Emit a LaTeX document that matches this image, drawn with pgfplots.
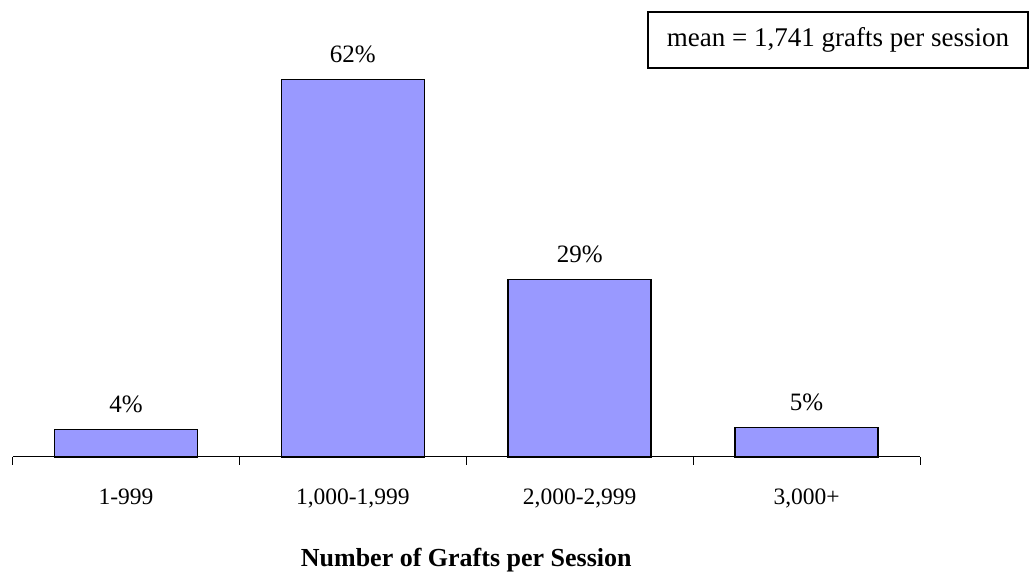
\documentclass[border=0pt]{standalone}
\usepackage{pgfplots}
\pgfplotsset{compat=1.18}
\usepackage{pgfplotstable}
\usepackage{fontspec}
\setmainfont{Liberation Serif}
\definecolor{barblue}{HTML}{9999FF}
\pgfplotstableread{
x y label
0 4.5 4\%
1 61.9 62\%
2 29.1 29\%
3 4.8 5\%
}\grafts
\begin{document}
\begin{tikzpicture}[x=1bp,y=1bp]
\path[use as bounding box] (0,0) rectangle (1029,575);
\begin{axis}[
  at={(12.5bp,118bp)}, anchor=south west,
  scale only axis,
  width=907.5bp, height=427bp,
  xmin=-0.5, xmax=3.5, ymin=0, ymax=70,
  axis x line*=bottom, axis y line=none,
  axis line style={black, line width=1bp},
  xtick={0,1,2,3},
  xticklabels={1-999,{1,000-1,999},{2,000-2,999},{3,000+}},
  major tick length=0pt,
  xticklabel style={anchor=base, yshift=-48bp, font=\fontsize{23.5bp}{28bp}\selectfont},
  extra x ticks={-0.5,0.5,1.5,2.5,3.5},
  extra x tick labels={},
  extra x tick style={major tick length=8bp, tick style={black, line width=1bp}},
  ybar, bar width=0.63,
  nodes near coords,
  point meta=explicit symbolic,
  every node near coord/.append style={anchor=base, yshift=17bp, font=\fontsize{25bp}{30bp}\selectfont, text=black},
  clip=false,
]
\addplot[fill=barblue, draw=black, line width=1.5bp] table[x=x, y=y, meta=label] {\grafts};
\node[anchor=base, font=\fontsize{26bp}{31bp}\selectfont\bfseries] at (axis cs:1.5,0) [yshift=-110bp] {Number of Grafts per Session};
\end{axis}
\draw[line width=1.5bp, black] (648,507) rectangle (1028,563);
\node[font=\fontsize{27bp}{32bp}\selectfont] at (838,535) {mean = 1,741 grafts per session};
\end{tikzpicture}
\end{document}
